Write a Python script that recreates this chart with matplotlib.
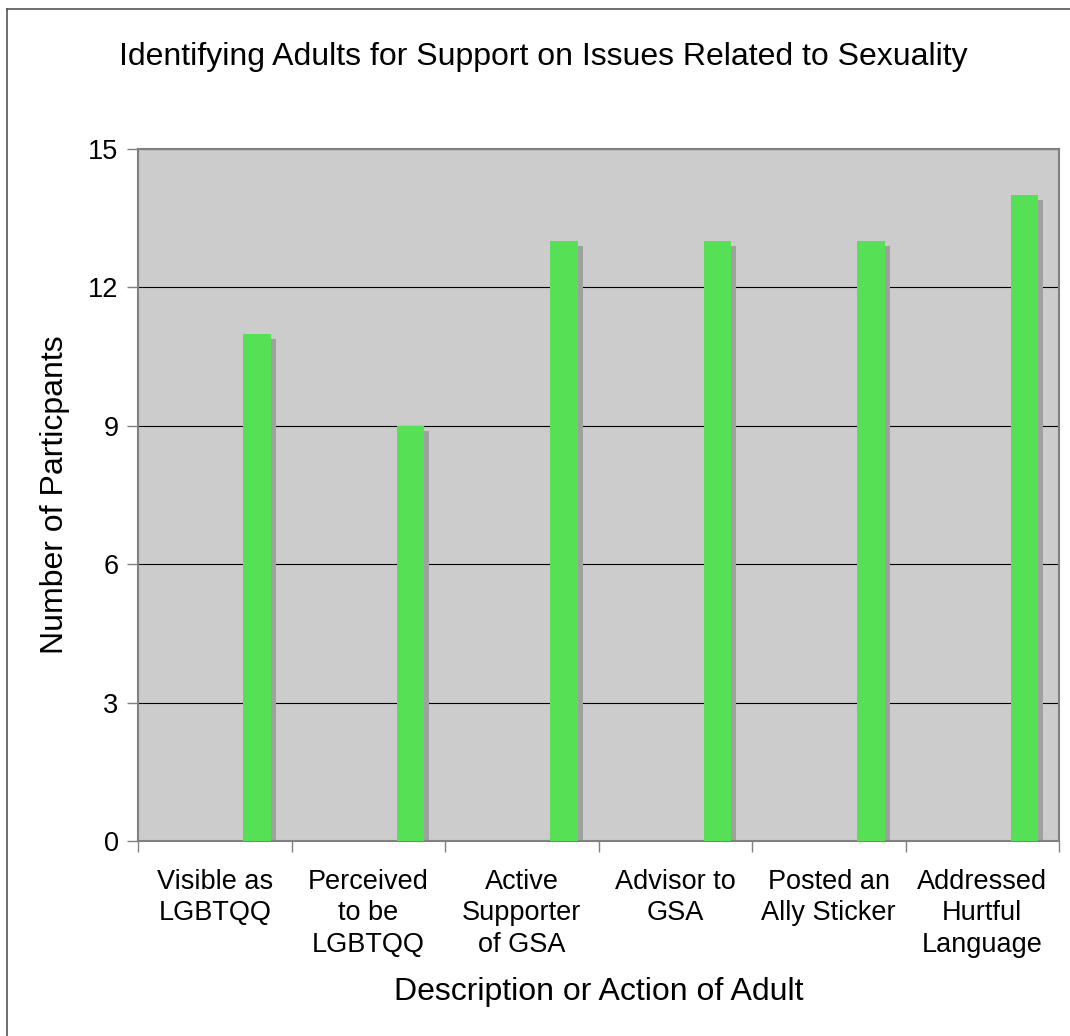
import matplotlib
matplotlib.use("Agg")
import matplotlib.pyplot as plt
import matplotlib.transforms as mtransforms
from matplotlib.lines import Line2D
import numpy as np

categories = ["Visible as\nLGBTQQ", "Perceived\nto be\nLGBTQQ", "Active\nSupporter\nof GSA",
              "Advisor to\nGSA", "Posted an\nAlly Sticker", "Addressed\nHurtful\nLanguage"]
values = [11, 9, 13, 13, 13, 14]
yticks = [0, 3, 6, 9, 12, 15]

plt.rcParams['font.family'] = ['Liberation Sans', 'DejaVu Sans']

fig = plt.figure(figsize=(10.70, 10.36), dpi=100)
ax = fig.add_axes([138/1070, 1-841/1036, (1059-138)/1070, (841-149)/1036])
ax.set_facecolor('#cccccc')

x = np.arange(len(categories))
offset = 0.275
width = 0.18

ax.set_axisbelow(True)
ax.yaxis.grid(True, color='black', linewidth=0.8, zorder=0)

shadow_tr = ax.transData + mtransforms.ScaledTranslation(5/100, -5/100, fig.dpi_scale_trans)
ax.bar(x + offset, values, width=width, color='#a0a0a0', transform=shadow_tr, zorder=2, clip_on=True)
ax.bar(x + offset, values, width=width, color='#55e055', zorder=3)

ax.set_xlim(-0.5, len(categories) - 0.5)
ax.set_ylim(0, 15)
ax.set_yticks(yticks)
ax.set_yticklabels([str(v) for v in yticks], fontsize=19.5)
ax.set_xticks(x)
ax.set_xticklabels(categories, fontsize=19.5, linespacing=1.28, va='top')
ax.set_xticks(np.arange(-0.5, len(categories), 1.0), minor=True)
ax.tick_params(axis='x', which='major', length=0, pad=20)
ax.tick_params(axis='x', which='minor', length=8, color='#808080', width=1)
ax.tick_params(axis='y', length=8, color='#808080', width=1, pad=6)

for s in ax.spines.values():
    s.set_color('#808080')
    s.set_linewidth(1.5)

ax.set_ylabel('Number of Particpants', fontsize=23)
ax.yaxis.label.set_va('center')
ax.yaxis.set_label_coords(-(138 - 55) / 921, 0.5)
ax.set_xlabel('Description or Action of Adult', fontsize=23, labelpad=14)

fig.text(543/1070, 1-57/1036, 'Identifying Adults for Support on Issues Related to Sexuality',
         fontsize=23, ha='center', va='center')

# outer chart border (left and top visible)
fig.add_artist(Line2D([7/1070, 7/1070], [0, 1-9/1036], transform=fig.transFigure, color='#555555', linewidth=1.2))
fig.add_artist(Line2D([7/1070, 1], [1-9/1036, 1-9/1036], transform=fig.transFigure, color='#555555', linewidth=1.2))

fig.savefig('out.png', dpi=100, facecolor='white')
